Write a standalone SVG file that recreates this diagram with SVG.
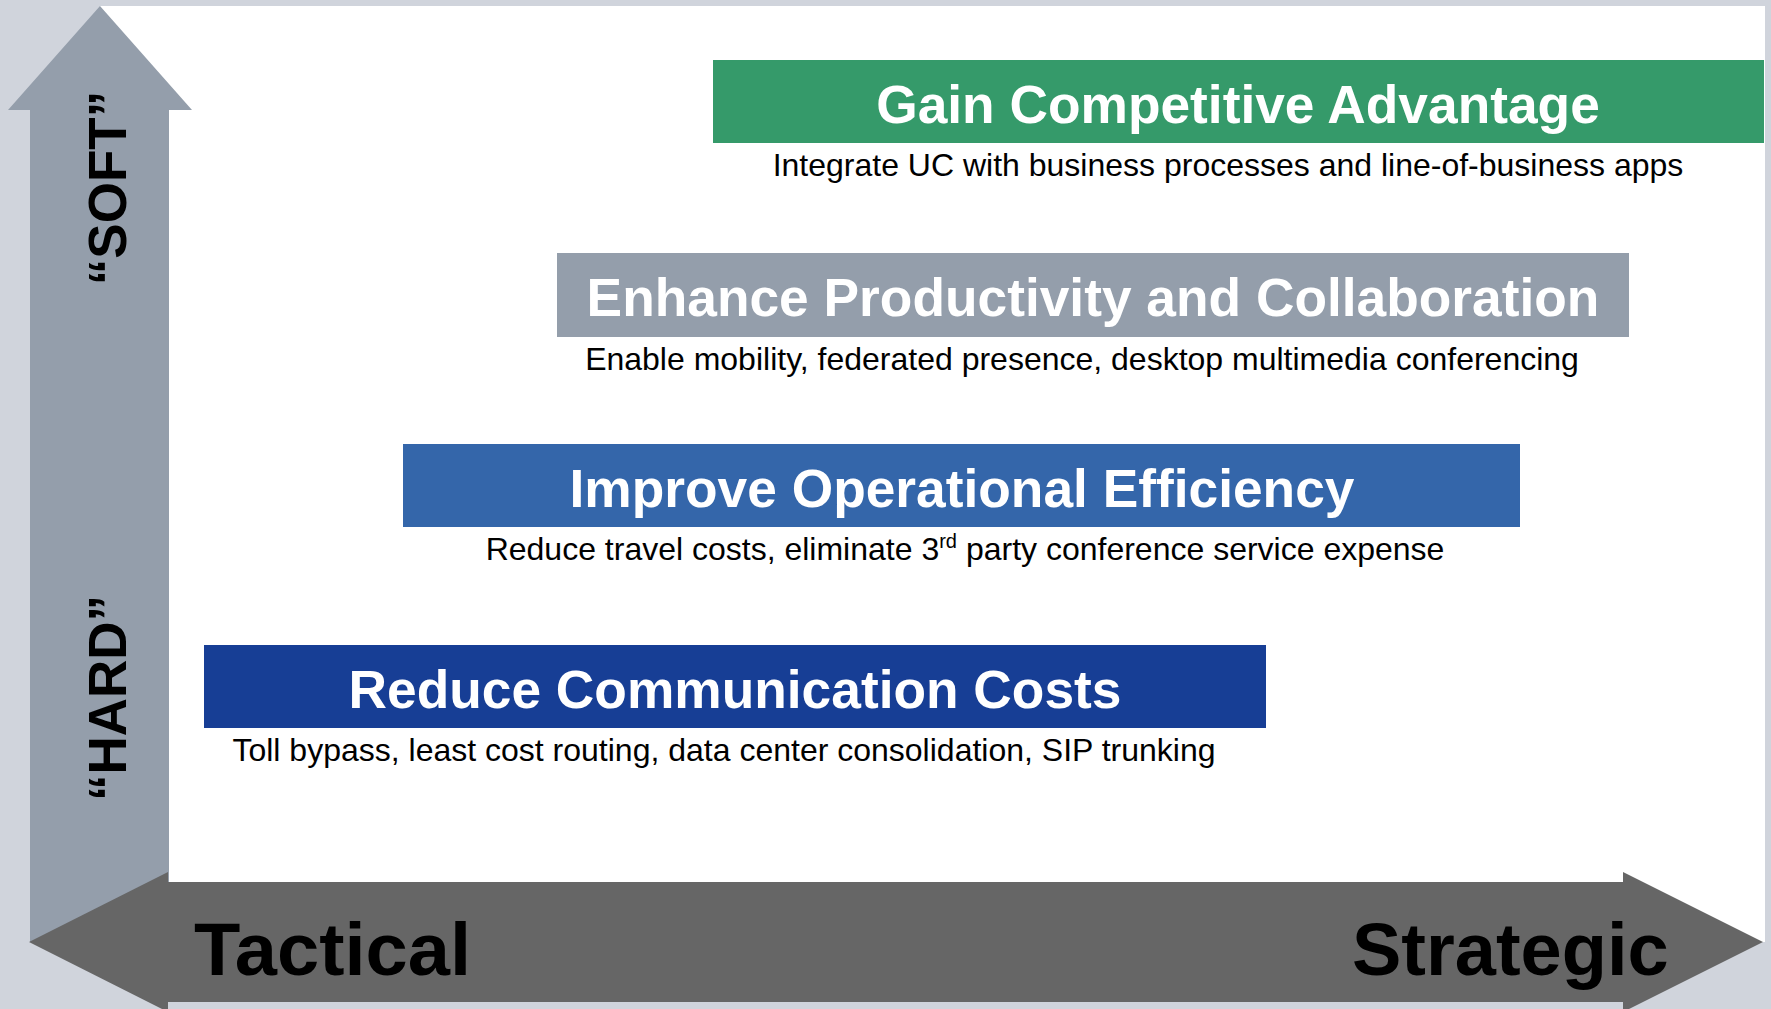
<svg xmlns="http://www.w3.org/2000/svg" width="1771" height="1009" viewBox="0 0 1771 1009">
  <style>
    text { font-family: "Liberation Sans", Arial, sans-serif; }
    .title { font-size: 53.3px; font-weight: bold; fill: #ffffff; text-anchor: middle; }
    .sub { font-size: 32px; fill: #000000; text-anchor: middle; }
    .axis { font-size: 53px; font-weight: bold; fill: #000000; text-anchor: middle; }
    .axisH { font-size: 74px; font-weight: bold; fill: #000000; }
  </style>
  <rect x="0" y="0" width="1771" height="1009" fill="#D0D4DC"/>
  <rect x="100" y="6" width="1665" height="936" fill="#FFFFFF"/>

  <g id="axes">
    <polygon id="vertical-axis" points="100,6 192,110 169,110 169,942 30,942 30,110 8,110" fill="#949EAB"/>
    <polygon id="horizontal-axis" points="29,942 168,872 168,882 1623,882 1623,872 1763,942 1623,1012 1623,1002 168,1002 168,1012" fill="#666666"/>
    <text class="axis" transform="translate(126,188) rotate(-90)">“SOFT”</text>
    <text class="axis" transform="translate(126,698) rotate(-90)">“HARD”</text>
    <text class="axisH" x="194" y="975" textLength="277" lengthAdjust="spacingAndGlyphs">Tactical</text>
    <text class="axisH" x="1352" y="975">Strategic</text>
  </g>

  <g id="gain-competitive-advantage">
    <rect x="713" y="60" width="1051" height="83" fill="#359A6A"/>
    <text class="title" x="1238" y="123">Gain Competitive Advantage</text>
    <text class="sub" x="1228" y="176">Integrate UC with business processes and line-of-business apps</text>
  </g>

  <g id="enhance-productivity">
    <rect x="557" y="253" width="1072" height="84" fill="#949EAB"/>
    <text class="title" x="1093" y="316">Enhance Productivity and Collaboration</text>
    <text class="sub" x="1082" y="370">Enable mobility, federated presence, desktop multimedia conferencing</text>
  </g>

  <g id="improve-operational-efficiency">
    <rect x="403" y="444" width="1117" height="83" fill="#3466AA"/>
    <text class="title" x="962" y="507">Improve Operational Efficiency</text>
    <text class="sub" x="965" y="560">Reduce travel costs, eliminate 3<tspan font-size="20" dy="-12">rd</tspan><tspan dy="12"> party conference service expense</tspan></text>
  </g>

  <g id="reduce-communication-costs">
    <rect x="204" y="645" width="1062" height="83" fill="#173E95"/>
    <text class="title" x="735" y="708">Reduce Communication Costs</text>
    <text class="sub" x="724" y="761">Toll bypass, least cost routing, data center consolidation, SIP trunking</text>
  </g>
</svg>
